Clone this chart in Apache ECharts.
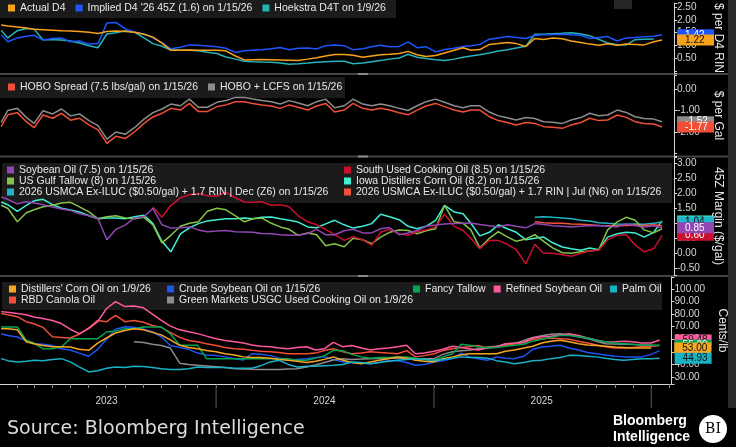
<!DOCTYPE html>
<html><head><meta charset="utf-8">
<script src="https://cdn.jsdelivr.net/npm/echarts@6/dist/echarts.min.js"></script>
<style>html,body{margin:0;padding:0;background:#000;}#c{width:736px;height:447px;}</style>
</head><body><div id="c"></div>
<script>
const dates = [
"2023-01-05","2023-01-16","2023-02-01","2023-02-16","2023-03-01","2023-03-16","2023-04-01","2023-04-16","2023-05-01","2023-05-16","2023-06-01","2023-06-16",
"2023-07-01","2023-07-16","2023-08-01","2023-08-16","2023-09-01","2023-09-16","2023-10-01","2023-10-16","2023-11-01","2023-11-16","2023-12-01","2023-12-16",
"2024-01-01","2024-01-16","2024-02-01","2024-02-16","2024-03-01","2024-03-16","2024-04-01","2024-04-16","2024-05-01","2024-05-16","2024-06-01","2024-06-16",
"2024-07-01","2024-07-16","2024-08-01","2024-08-16","2024-09-01","2024-09-16","2024-10-01","2024-10-16","2024-11-01","2024-11-16","2024-12-01","2024-12-16",
"2025-01-01","2025-01-16","2025-02-01","2025-02-16","2025-03-01","2025-03-16","2025-04-01","2025-04-16","2025-05-01","2025-05-16","2025-06-01","2025-06-16",
"2025-07-01","2025-07-16","2025-08-01","2025-08-16","2025-09-01","2025-09-16","2025-10-01","2025-10-16","2025-11-01","2025-11-16","2025-12-01","2025-12-16",
"2026-01-01","2026-01-15"];
const yearLabels = ["2023","2024","2025"];
const yearBoundaries = ["2024-01-01","2025-01-01","2026-01-01"];

// Panel 1 ($ per D4 RIN)
const actualD4 = [1.80,1.76,1.72,1.68,1.63,1.62,1.60,1.58,1.57,1.55,1.52,1.47,
1.55,1.57,1.55,1.52,1.44,1.33,1.10,0.82,0.82,0.83,0.82,0.82,
0.82,0.80,0.60,0.45,0.46,0.47,0.46,0.45,0.44,0.43,0.48,0.53,
0.60,0.66,0.66,0.63,0.55,0.60,0.65,0.67,0.70,0.78,0.65,0.58,
0.62,0.72,0.82,0.92,0.82,0.85,1.05,1.08,1.12,1.08,0.97,1.28,
1.24,1.30,1.27,1.18,1.12,1.06,1.02,1.07,1.02,1.06,1.05,1.03,
1.15,1.22];
const impliedD4 = [1.42,1.15,1.30,1.36,1.40,1.22,1.28,1.30,1.15,1.18,1.06,1.08,
1.88,1.90,1.65,1.53,1.45,1.30,1.12,0.88,0.94,1.03,1.02,0.99,
0.96,0.90,0.74,0.80,0.82,0.84,0.88,0.93,0.84,0.90,0.91,0.87,
1.00,1.03,1.00,0.84,0.88,0.96,1.02,0.96,0.97,1.15,0.92,0.96,
0.76,0.85,0.90,0.97,1.00,1.05,1.25,1.30,1.35,1.32,1.28,1.40,
1.42,1.43,1.44,1.42,1.40,1.28,1.32,1.35,1.18,1.30,1.32,1.34,
1.36,1.42];
const hoekstraD4T = [1.60,1.30,1.58,1.66,1.64,1.23,1.23,1.22,1.18,1.10,1.00,0.92,
1.45,1.50,1.58,1.52,1.30,1.08,0.98,0.83,0.82,0.82,0.80,0.75,
0.70,0.56,0.48,0.40,0.38,0.37,0.36,0.33,0.28,0.30,0.33,0.36,
0.38,0.40,0.40,0.30,0.33,0.38,0.43,0.48,0.52,0.67,0.55,0.50,
0.46,0.43,0.48,0.55,0.60,0.65,0.72,0.79,0.84,0.91,0.98,1.44,
1.44,1.46,1.48,1.50,1.45,1.38,1.25,1.10,1.04,1.03,1.23,1.25,
1.26];

// Panel 2 ($ per Gal)
const hoboSpread = [-1.75,-1.20,-1.10,-1.52,-1.80,-1.21,-1.36,-1.13,-1.45,-1.36,-1.67,-1.90,
-2.53,-2.20,-2.30,-2.00,-1.60,-1.30,-1.13,-0.90,-0.98,-0.67,-1.05,-1.05,
-0.82,-0.74,-0.59,-0.59,-0.67,-0.74,-0.79,-0.90,-0.74,-0.85,-0.98,-0.79,
-0.67,-1.07,-0.98,-0.67,-0.90,-0.98,-0.90,-0.98,-1.10,-1.20,-0.98,-0.79,
-0.67,-0.82,-0.98,-1.07,-0.98,-0.98,-1.29,-1.47,-1.56,-1.67,-1.56,-1.60,
-1.75,-1.78,-1.83,-1.67,-1.56,-1.36,-1.47,-1.44,-1.21,-1.32,-1.52,-1.60,
-1.63,-1.77];
const hoboLcfs = [-1.55,-1.00,-0.90,-1.32,-1.60,-1.01,-1.16,-0.93,-1.25,-1.16,-1.47,-1.70,
-2.33,-2.00,-2.10,-1.80,-1.40,-1.10,-0.93,-0.70,-0.78,-0.47,-0.85,-0.85,
-0.62,-0.54,-0.39,-0.39,-0.47,-0.54,-0.59,-0.70,-0.54,-0.65,-0.78,-0.59,
-0.47,-0.87,-0.78,-0.47,-0.70,-0.78,-0.70,-0.78,-0.90,-1.00,-0.78,-0.59,
-0.47,-0.62,-0.78,-0.87,-0.78,-0.78,-1.07,-1.25,-1.34,-1.44,-1.33,-1.37,
-1.52,-1.55,-1.60,-1.44,-1.33,-1.13,-1.24,-1.21,-0.98,-1.09,-1.29,-1.37,
-1.40,-1.52];

// Panel 3 (45Z margin $/gal)
const soybeanOil = [1.88,1.80,1.65,1.72,1.68,1.62,1.54,1.48,1.43,1.32,1.25,1.15,
0.45,0.80,0.95,1.18,1.22,1.50,0.95,0.84,0.85,0.88,0.78,0.72,
0.74,0.76,0.72,0.71,0.70,0.66,0.65,0.62,0.60,0.60,0.66,0.80,
0.62,0.62,0.75,0.80,0.68,0.68,0.82,0.86,0.62,0.68,0.76,0.90,
0.94,0.98,0.99,1.00,1.01,0.96,0.92,0.88,0.95,0.90,0.85,0.99,
0.96,0.92,0.90,0.88,0.90,0.92,0.93,0.90,0.88,0.98,0.92,0.88,
0.92,0.85];
const gulfTallow = [1.60,1.50,1.05,1.35,1.45,1.55,1.60,1.68,1.70,1.55,1.38,1.15,
1.22,1.25,1.18,1.15,1.20,0.95,0.35,0.60,0.90,1.00,1.05,1.40,
1.50,1.45,1.25,1.05,1.15,1.18,1.00,0.88,0.80,0.60,0.68,0.62,
0.25,0.32,0.22,0.50,0.45,0.32,0.54,0.70,0.78,0.76,0.65,0.75,
0.82,1.60,1.05,1.00,0.78,0.18,0.50,0.72,0.55,0.40,0.48,0.62,
0.40,0.18,0.02,0.00,0.05,0.08,0.12,0.78,1.05,1.20,1.10,0.78,
0.68,0.82];
const iowaDCO = [1.71,1.62,1.40,1.60,1.75,1.80,1.62,1.50,1.44,1.38,1.25,1.15,
1.18,1.18,1.15,1.22,1.27,0.99,0.40,0.05,0.65,0.85,0.99,1.08,
1.12,1.15,1.15,1.18,1.15,1.20,1.21,1.15,1.10,1.04,0.88,0.85,
0.98,1.10,0.95,0.84,0.90,0.99,1.30,1.22,1.12,0.90,0.82,0.90,
1.10,1.60,1.38,1.32,1.00,0.58,0.70,0.95,0.82,0.70,0.45,0.50,
0.54,0.35,0.21,0.15,0.10,0.18,0.12,0.54,0.65,0.70,0.68,0.54,
0.70,1.08];
const southUCOStart = 17;
const southUCO = [1.54,1.20,1.60,1.85,1.95,1.99,1.92,
1.90,2.04,1.85,1.71,1.70,1.72,1.60,1.62,1.55,1.25,1.05,0.95,
0.80,0.62,0.43,0.55,0.45,0.27,0.70,0.80,0.65,0.60,0.72,0.78,
0.88,1.30,0.90,0.76,0.50,0.15,0.43,0.43,0.30,0.12,-0.35,0.30,
0.00,0.00,-0.05,-0.10,0.00,0.08,0.10,0.45,0.60,0.62,0.28,0.05,
0.15,0.60];
const usmcaStart = 59;
const usmcaDecZ6 = [1.20,1.22,1.20,1.18,1.15,1.10,1.08,1.02,1.00,0.98,0.97,0.98,0.97,1.00,1.04];
const usmcaJulN6 = [1.05,1.02,1.00,1.00,0.98,0.97,0.95,0.93,0.92,0.92,0.93,0.94,0.93,0.95,0.92];

// Panel 4 (cents/lb)
const refinedSoy = [82.0,81.5,80.5,79.5,77.7,76.5,75.0,72.5,68.0,64.5,68.5,74.0,
84.5,90.0,86.0,86.5,85.0,80.0,75.0,70.5,67.5,66.0,64.5,62.5,
60.5,59.0,58.0,57.0,55.5,54.5,54.0,53.0,52.5,53.5,54.0,51.5,
52.5,57.5,54.0,55.0,53.0,51.5,52.5,53.0,54.0,55.2,48.5,49.0,
50.5,52.0,54.5,53.5,52.5,51.5,53.0,54.0,56.5,57.0,57.5,61.0,
62.0,62.5,63.5,64.4,63.0,61.0,59.5,57.8,58.0,58.5,58.0,57.0,
57.0,59.48];
const canola = [80.5,79.5,78.0,74.0,72.4,69.5,62.0,61.5,61.0,64.0,69.0,75.0,
74.0,79.0,74.0,75.0,73.5,71.0,69.5,65.5,61.5,59.0,58.0,56.5,
55.0,53.5,52.5,52.0,51.2,50.5,50.0,49.5,48.5,48.5,48.5,49.0,
51.0,52.5,50.0,48.5,49.0,50.0,49.5,49.0,48.5,51.0,46.0,47.0,
48.5,51.0,52.5,53.5,54.0,55.0,53.0,54.0,55.0,56.5,57.5,60.0,
60.5,61.0,60.5,60.0,58.5,57.0,55.5,54.0,53.0,53.0,53.5,54.0,
54.5,55.0];
const distillersCornOil = [68.4,68.4,67.5,58.0,56.5,55.0,54.0,54.0,53.9,52.0,51.2,57.0,
61.0,65.0,67.0,68.4,67.5,65.5,63.5,59.5,55.2,53.5,52.5,51.0,
50.0,48.5,47.5,46.0,45.5,45.5,45.0,44.0,43.3,42.5,41.5,42.5,
44.0,46.0,43.3,41.5,40.6,42.0,43.3,44.5,46.0,45.0,43.3,42.5,
42.0,44.5,46.0,47.5,48.5,48.5,48.5,48.5,50.5,51.5,53.0,54.5,
57.0,58.5,59.2,58.0,56.5,55.5,55.0,54.5,53.9,53.5,53.0,53.0,
53.00];
const crudeSoy = [64.4,63.0,61.8,59.0,56.5,56.0,55.0,52.5,51.5,49.0,46.5,52.0,
60.0,68.0,70.0,69.5,68.0,66.0,62.0,55.0,53.5,52.0,49.0,47.5,
47.0,46.0,44.5,43.5,48.5,48.0,47.0,45.0,43.3,44.0,44.6,45.5,
46.0,44.0,42.0,41.5,41.0,40.6,41.5,43.0,43.0,41.5,39.3,40.0,
42.0,43.0,44.6,49.0,46.0,44.5,43.3,46.0,45.0,44.6,46.5,52.0,
53.9,54.5,55.2,53.0,51.5,49.5,48.5,47.5,46.5,46.0,46.0,46.0,
48.0,51.0];
const fancyTallow = [69.8,69.8,69.8,59.2,57.0,52.5,52.5,53.9,60.5,60.5,60.5,60.5,
65.8,66.5,68.4,68.4,69.8,69.8,69.8,64.4,55.2,55.2,55.2,44.6,
44.6,44.6,44.6,44.6,44.6,44.6,44.6,44.6,44.6,43.3,43.3,45.0,
47.0,51.2,50.8,48.0,46.0,45.0,45.5,45.5,46.0,46.0,45.0,44.0,
43.3,46.0,48.5,56.0,55.2,54.0,53.0,53.5,54.5,55.2,56.0,58.5,
60.0,61.5,63.1,63.0,62.0,61.0,59.2,58.0,57.0,56.5,56.0,55.5,
55.5,55.2];
const palmOil = [44.6,43.0,42.0,42.5,43.3,43.0,44.0,44.6,42.0,38.0,34.0,35.0,
37.0,38.0,37.5,38.6,38.3,37.5,36.6,36.0,35.9,36.5,38.0,37.5,
37.5,37.5,37.0,37.0,37.0,39.0,42.0,43.3,40.0,38.0,38.5,38.5,
39.0,39.3,40.0,41.9,41.5,40.6,41.5,42.5,43.3,44.0,44.6,44.0,
43.3,44.0,45.0,46.0,45.5,45.5,45.0,43.0,41.9,40.6,41.5,43.0,
43.3,44.6,45.5,47.2,47.0,46.5,46.0,45.0,44.0,43.3,44.0,44.6,
44.5,44.93];
const greenMarketsStart = 15;
const greenMarketsUCO = [58.0,57.5,56.0,55.0,53.0,41.0,40.0,39.3,38.8,
38.2,37.5,36.6,36.4,36.2,36.0,35.9,36.0,36.3,36.6,38.0,39.5,
41.5,43.5,44.6,44.0,44.3,44.6,44.8,45.0,45.0,44.8,44.6,44.6,
44.6,48.0,50.0,50.8,51.2,52.5,53.9,54.5,55.5,56.5,59.0,61.5,
62.8,64.0,64.4,63.5,62.0,60.5,58.5,56.5,56.2,56.0,55.8,55.5,
55.2];

const F = "'Liberation Sans', Arial, sans-serif";
const N = {
  a:"Actual D4", i:"Implied D4 '26 45Z (1.6) on 1/15/26", h:"Hoekstra D4T on 1/9/26",
  hs:"HOBO Spread (7.5 lbs/gal) on 1/15/26", hl:"HOBO + LCFS on 1/15/26",
  so:"Soybean Oil (7.5) on 1/15/26", gt:"US Gulf Tallow (8) on 1/15/26",
  dz:"2026 USMCA Ex-ILUC ($0.50/gal) + 1.7 RIN | Dec (Z6) on 1/15/26",
  su:"South Used Cooking Oil (8.5) on 1/15/26", io:"Iowa Distillers Corn Oil (8.2) on 1/15/26",
  jn:"2026 USMCA Ex-ILUC ($0.50/gal) + 1.7 RIN | Jul (N6) on 1/15/26",
  dc:"Distillers' Corn Oil on 1/9/26", cs:"Crude Soybean Oil on 1/15/26", ft:"Fancy Tallow",
  rs:"Refined Soybean Oil", po:"Palm Oil", rc:"RBD Canola Oil",
  gm:"Green Markets USGC Used Cooking Oil on 1/9/26"
};

function line(name, vals, color, g, start, tag) {
  const data = vals.map((v, k) => [dates[start + k], v]);
  const s = {name, type:'line', xAxisIndex:g, yAxisIndex:g, data, showSymbol:false, symbol:'none',
    lineStyle:{color, width:1.5}, itemStyle:{color}, silent:true, emphasis:{disabled:true}};
  if (tag) {
    const endX = start + vals.length - 1;
    s.endLabel = {show:true, formatter: p => Number(p.value[1]).toFixed(2),
      backgroundColor: color, color: tag, fontSize:10, fontFamily:F, lineHeight:10,
      padding:[1,3,0,8], width:26, distance: endX === 73 ? 15 : 23};
  }
  return s;
}

function yax(g, min, max, step, split, name, hide) {
  return {type:'value', gridIndex:g, position:'right', min, max, splitNumber:split,
    axisLine:{show:true, lineStyle:{color:'#d6d6d6', width:1}},
    axisTick:{show:true, length:3, lineStyle:{color:'#d6d6d6'}},
    splitLine:{show:false},
    axisLabel:{color:'#d6d6d6', fontSize:10, fontFamily:F, margin:3,
      formatter: v => {
        const r = v / step;
        if (Math.abs(r - Math.round(r)) > 1e-6) return '';
        if (hide.some(h => Math.abs(h - v) < 1e-6)) return '';
        return v.toFixed(2);
      }},
    name, nameLocation:'middle', nameRotate:-90, nameGap:38,
    nameTextStyle:{color:'#e6e6e6', fontSize:12, fontFamily:F}};
}

const xMin = new Date(2023,0,3).getTime();
const xMax = new Date(2026,1,4).getTime();
const DAY = 86400000;

const xAxes = [0,1,2,3].map(g => {
  const ax = {type:'time', gridIndex:g, min:xMin, max:xMax, splitLine:{show:false}};
  if (g < 3) { ax.show = false; return ax; }
  return Object.assign(ax, {
    splitNumber:40, minInterval:28*DAY, maxInterval:31*DAY,
    axisLine:{show:true, lineStyle:{color:'#d6d6d6'}},
    axisTick:{show:true, length:4, interval:0, lineStyle:{color:'#8a8a8a'}},
    axisLabel:{color:'#d6d6d6', fontSize:10, fontFamily:F, margin:12, interval:0, hideOverlap:false,
      formatter: v => { const d = new Date(v); const y = String(d.getFullYear());
        return (d.getMonth() === 6 && yearLabels.includes(y)) ? y : ''; }}
  });
});

const legendBase = {icon:'rect', itemWidth:7, itemHeight:7, selectedMode:false, padding:0,
  textStyle:{color:'#e8e8e8', fontSize:10.5, fontFamily:F, lineHeight:11}};
function leg(opts){ return Object.assign({}, legendBase, opts, {textStyle:Object.assign({}, legendBase.textStyle, opts.textStyle||{})}); }

const option = {
  backgroundColor:'#000',
  animation:false,
  grid:[
    {left:0, right:62, top:0, height:73},
    {left:0, right:62, top:75, height:81},
    {left:0, right:62, top:157, height:118},
    {left:0, right:62, top:277, height:107}
  ],
  xAxis: xAxes,
  yAxis: [
    yax(0, -0.056, 2.648, 0.5, 5, '$ per D4 RIN', [0]),
    yax(1, -3.116, 0.651, 1, 4, '$ per Gal', [-3]),
    yax(2, -0.723, 3.21, 0.5, 8, '45Z Margin ($/gal)', []),
    yax(3, 24.42, 109.55, 10, 8, 'Cents/lb', [])
  ],
  legend: [
    leg({left:8, top:2, itemGap:10, data:[N.a, N.i, N.h], textStyle:{lineHeight:12}}),
    leg({left:8, top:81, itemGap:10, data:[N.hs, N.hl], textStyle:{lineHeight:12}}),
    leg({left:7, top:164.5, orient:'vertical', itemGap:0, data:[N.so, N.gt, N.dz]}),
    leg({left:344, top:164.5, orient:'vertical', itemGap:0, data:[N.su, N.io, N.jn]}),
    leg({left:9, top:283.5, orient:'vertical', itemGap:0, data:[N.dc, N.rc]}),
    leg({left:167, top:283.5, orient:'vertical', itemGap:0, data:[N.cs, N.gm]}),
    leg({left:413, top:283.5, itemGap:8, data:[N.ft, N.rs, N.po]})
  ],
  series: [
    line(N.h, hoekstraD4T, '#26b3b8', 0, 0, null),
    line(N.i, impliedD4, '#1f55ff', 0, 0, '#ffffff'),
    line(N.a, actualD4, '#f7a21b', 0, 0, '#111111'),
    line(N.hl, hoboLcfs, '#8c8c8c', 1, 0, '#ffffff'),
    line(N.hs, hoboSpread, '#f04e37', 1, 0, '#ffffff'),
    line(N.io, iowaDCO, '#40efd2', 2, 0, '#111111'),
    line(N.dz, usmcaDecZ6, '#1fb4c8', 2, usmcaStart, '#111111'),
    line(N.jn, usmcaJulN6, '#f0503c', 2, usmcaStart, null),
    line(N.gt, gulfTallow, '#86c446', 2, 0, null),
    line(N.su, southUCO, '#c8102e', 2, southUCOStart, '#ffffff'),
    line(N.so, soybeanOil, '#9146b4', 2, 0, '#ffffff'),
    line(N.cs, crudeSoy, '#1f55f0', 3, 0, null),
    line(N.gm, greenMarketsUCO, '#8c8c8c', 3, greenMarketsStart, null),
    line(N.rc, canola, '#f04e37', 3, 0, null),
    line(N.rs, refinedSoy, '#ff5aa0', 3, 0, '#111111'),
    line(N.ft, fancyTallow, '#00a651', 3, 0, '#ffffff'),
    line(N.dc, distillersCornOil, '#f5a623', 3, 0, '#111111'),
    line(N.po, palmOil, '#19b1c4', 3, 0, '#111111')
  ]
};

const chart = echarts.init(document.getElementById('c'), null, {renderer:'canvas'});
chart.setOption(option);

const g = [];
const box = (x,y,w,h,fill) => g.push({type:'rect', z:0, silent:true, shape:{x,y,width:w,height:h}, style:{fill}});
box(0,0,396,18,'#1b1b1b');
box(0,77,345,21,'#1b1b1b');
box(2,163,670,40,'#1b1b1b');
box(2,282,660,28,'#1b1b1b');
[73,155.5,275].forEach(y => { box(0,y,728,2,'#444444'); box(358,y,10,2,'#8a8a8a'); });
box(728,0,8,408,'#2b2b2b');
box(614,0,18,9,'#262626');
yearBoundaries.forEach(d => {
  const p = d.split('-').map(Number);
  const x = chart.convertToPixel({xAxisIndex:3}, new Date(p[0], p[1]-1, p[2]).getTime());
  g.push({type:'line', z:1, silent:true, shape:{x1:x, y1:385, x2:x, y2:408}, style:{stroke:'#5a5a5a', lineWidth:1}});
});
g.push({type:'text', z:5, silent:true, left:7, top:420,
  style:{text:'Source: Bloomberg Intelligence', fill:'#dcdcdc', font:"19px 'DejaVu Sans', sans-serif"}});
g.push({type:'text', z:5, silent:true, left:613, top:414,
  style:{text:'Bloomberg', fill:'#ffffff', font:"bold 14px 'Liberation Sans', Arial, sans-serif"}});
g.push({type:'text', z:5, silent:true, left:613, top:430,
  style:{text:'Intelligence', fill:'#ffffff', font:"bold 14px 'Liberation Sans', Arial, sans-serif"}});
g.push({type:'circle', z:5, silent:true, shape:{cx:713, cy:429, r:14}, style:{fill:'#ffffff'}});
g.push({type:'text', z:6, silent:true, x:713, y:429,
  style:{text:'BI', fill:'#000000', font:"14px 'DejaVu Serif', serif", align:'center', verticalAlign:'middle'}});
chart.setOption({graphic: g});
</script></body></html>
